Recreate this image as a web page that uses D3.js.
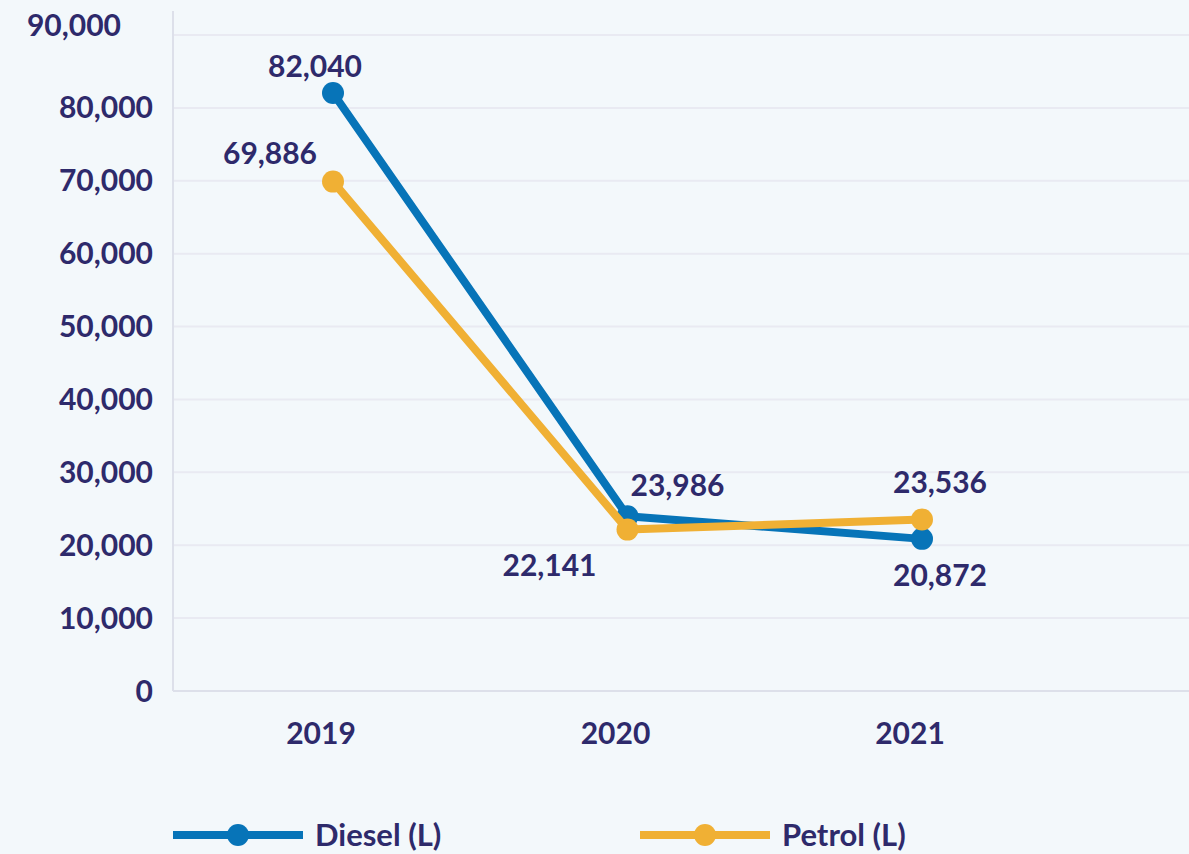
<html>
<head>
<style>
  body { margin: 0; background: #f3f8fb; }
  svg text { font-family: Lato, "Open Sans", sans-serif; font-weight: bold; fill: #2e2a6b; }
</style>
</head>
<body>
<svg width="1189" height="854"></svg>
<script src="https://cdn.jsdelivr.net/npm/d3@7"></script>
<script>
var years = ["2019", "2020", "2021"];
var diesel = [82040, 23986, 20872];
var petrol = [69886, 22141, 23536];
var yTicks = [0, 10000, 20000, 30000, 40000, 50000, 60000, 70000, 80000, 90000];

// label offsets (dx, dy) for each point
var dieselLabelPos = [[-18, -27], [50, -31], [18, 37]];
var petrolLabelPos = [[-63, -28], [-78, 36], [18, -37]];

var svg = d3.select("svg");
var fmt = d3.format(",");

var x = d3.scalePoint().domain(years).range([333, 922]);
var y = d3.scaleLinear().domain([0, 90000]).range([691, 35]);

// gridlines
svg.append("g").selectAll("line").data(yTicks.slice(1)).enter().append("line")
  .attr("x1", 173).attr("x2", 1189)
  .attr("y1", function(d) { return y(d); }).attr("y2", function(d) { return y(d); })
  .style("stroke", "#e9eaf2").style("stroke-width", 2);

// axes lines
svg.append("line").attr("x1", 173).attr("x2", 173).attr("y1", 11).attr("y2", y(0))
  .style("stroke", "#dde0ea").style("stroke-width", 2);
svg.append("line").attr("x1", 173).attr("x2", 1189).attr("y1", y(0)).attr("y2", y(0))
  .style("stroke", "#dde0ea").style("stroke-width", 2);

// y tick labels
svg.append("g").selectAll("text").data(yTicks).enter().append("text")
  .attr("x", function(d) { return d === 90000 ? 121 : 153; })
  .attr("y", function(d) { return d === 90000 ? y(d) - 10 : y(d); })
  .attr("dy", "0.35em")
  .attr("text-anchor", "end")
  .style("font-size", "30px")
  .text(function(d) { return fmt(d); });

// x labels
svg.append("g").selectAll("text").data(years).enter().append("text")
  .attr("x", function(d) { return x(d) - 12; })
  .attr("y", 733).attr("dy", "0.35em")
  .attr("text-anchor", "middle")
  .style("font-size", "30px")
  .text(function(d) { return d; });

var series = [
  { name: "Diesel (L)", values: diesel, color: "#0774b8", pos: dieselLabelPos },
  { name: "Petrol (L)", values: petrol, color: "#f0b034", pos: petrolLabelPos }
];

var line = d3.line()
  .x(function(d, i) { return x(years[i]); })
  .y(function(d) { return y(d); });

series.forEach(function(s) {
  svg.append("path").datum(s.values)
    .attr("d", line)
    .style("fill", "none").style("stroke", s.color).style("stroke-width", 8)
    .style("stroke-linejoin", "round");
  svg.append("g").selectAll("circle").data(s.values).enter().append("circle")
    .attr("cx", function(d, i) { return x(years[i]); })
    .attr("cy", function(d) { return y(d); })
    .attr("r", 11)
    .style("fill", s.color);
});

series.forEach(function(s) {
  svg.append("g").selectAll("text").data(s.values).enter().append("text")
    .attr("x", function(d, i) { return x(years[i]) + s.pos[i][0]; })
    .attr("y", function(d, i) { return y(d) + s.pos[i][1]; })
    .attr("dy", "0.35em")
    .attr("text-anchor", "middle")
    .style("font-size", "30px")
    .text(function(d) { return fmt(d); });
});

// legend
var legendX = [173, 640];
series.forEach(function(s, i) {
  var g = svg.append("g").attr("transform", "translate(" + legendX[i] + ",835)");
  g.append("line").attr("x1", 0).attr("x2", 130).attr("y1", 0).attr("y2", 0)
    .style("stroke", s.color).style("stroke-width", 8);
  g.append("circle").attr("cx", 65).attr("cy", 0).attr("r", 11).style("fill", s.color);
  g.append("text").attr("x", 142).attr("y", 0).attr("dy", "0.35em")
    .style("font-size", "31px").text(s.name);
});
</script>
</body>
</html>
